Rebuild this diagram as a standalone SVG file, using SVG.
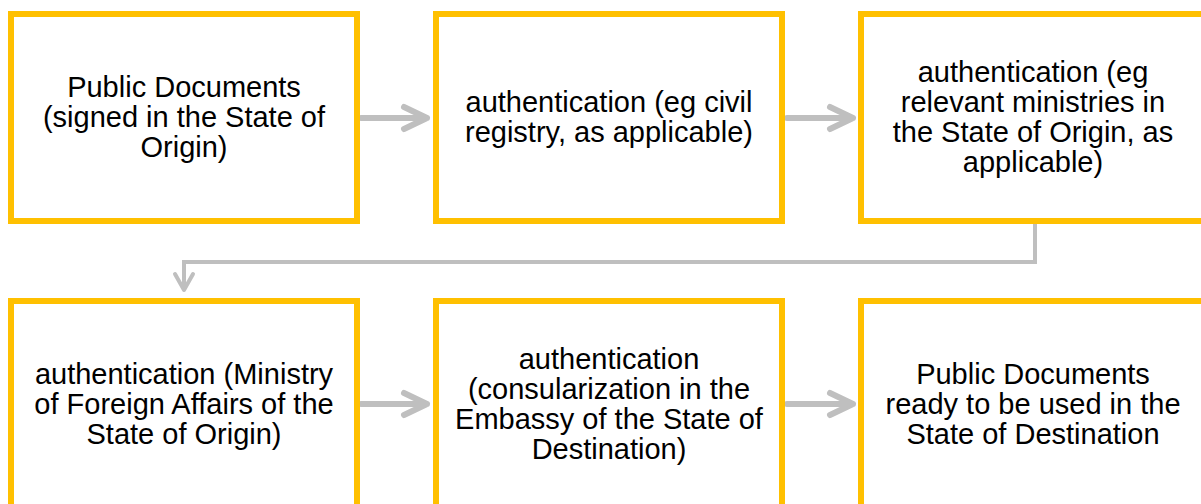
<svg xmlns="http://www.w3.org/2000/svg" width="1201" height="504" viewBox="0 0 1201 504">
  <style>
    .box { fill: #FFFFFF; stroke: #FFC000; stroke-width: 6; }
    .lbl { font-family: "Liberation Sans", Arial, sans-serif; font-size: 29px; fill: #000000; text-anchor: middle; }
    .arrow { fill: none; stroke: #BFBFBF; stroke-width: 6; stroke-linecap: round; stroke-linejoin: round; }
    .elbow { fill: none; stroke: #BFBFBF; stroke-width: 4; stroke-linecap: butt; stroke-linejoin: miter; }
    .elbow-head { fill: none; stroke: #BFBFBF; stroke-width: 4; stroke-linecap: round; stroke-linejoin: round; }
  </style>
  <rect width="1201" height="504" fill="#FFFFFF"/>

  <!-- connectors -->
  <g id="connectors">
    <path class="arrow" d="M361,118 H427 M404,107 L427,118 L404,129"/>
    <path class="arrow" d="M787,118 H853 M830,107 L853,118 L830,129"/>
    <path class="elbow" d="M1035,224 V262 H184 V288"/>
    <path class="elbow-head" d="M175,274 L184,290 L193,274"/>
    <path class="arrow" d="M361,404 H427 M404,393 L427,404 L404,415"/>
    <path class="arrow" d="M787,404 H853 M830,393 L853,404 L830,415"/>
  </g>

  <!-- row 1 -->
  <g id="node-public-documents">
    <rect class="box" x="11" y="14" width="346" height="207"/>
    <text class="lbl" x="184" y="97">Public Documents</text>
    <text class="lbl" x="184" y="127">(signed in the State of</text>
    <text class="lbl" x="184" y="157">Origin)</text>
  </g>
  <g id="node-civil-registry">
    <rect class="box" x="436" y="14" width="346" height="207"/>
    <text class="lbl" x="609" y="112">authentication (eg civil</text>
    <text class="lbl" x="609" y="142">registry, as applicable)</text>
  </g>
  <g id="node-ministries">
    <rect class="box" x="861" y="14" width="346" height="207"/>
    <text class="lbl" x="1033" y="82">authentication (eg</text>
    <text class="lbl" x="1033" y="112">relevant ministries in</text>
    <text class="lbl" x="1033" y="142">the State of Origin, as</text>
    <text class="lbl" x="1033" y="172">applicable)</text>
  </g>

  <!-- row 2 -->
  <g id="node-foreign-affairs">
    <rect class="box" x="11" y="301" width="346" height="207"/>
    <text class="lbl" x="184" y="384">authentication (Ministry</text>
    <text class="lbl" x="184" y="414">of Foreign Affairs of the</text>
    <text class="lbl" x="184" y="444">State of Origin)</text>
  </g>
  <g id="node-consularization">
    <rect class="box" x="436" y="301" width="346" height="207"/>
    <text class="lbl" x="609" y="369">authentication</text>
    <text class="lbl" x="609" y="399">(consularization in the</text>
    <text class="lbl" x="609" y="429">Embassy of the State of</text>
    <text class="lbl" x="609" y="459">Destination)</text>
  </g>
  <g id="node-ready">
    <rect class="box" x="861" y="301" width="346" height="207"/>
    <text class="lbl" x="1033" y="384">Public Documents</text>
    <text class="lbl" x="1033" y="414">ready to be used in the</text>
    <text class="lbl" x="1033" y="444">State of Destination</text>
  </g>
</svg>
